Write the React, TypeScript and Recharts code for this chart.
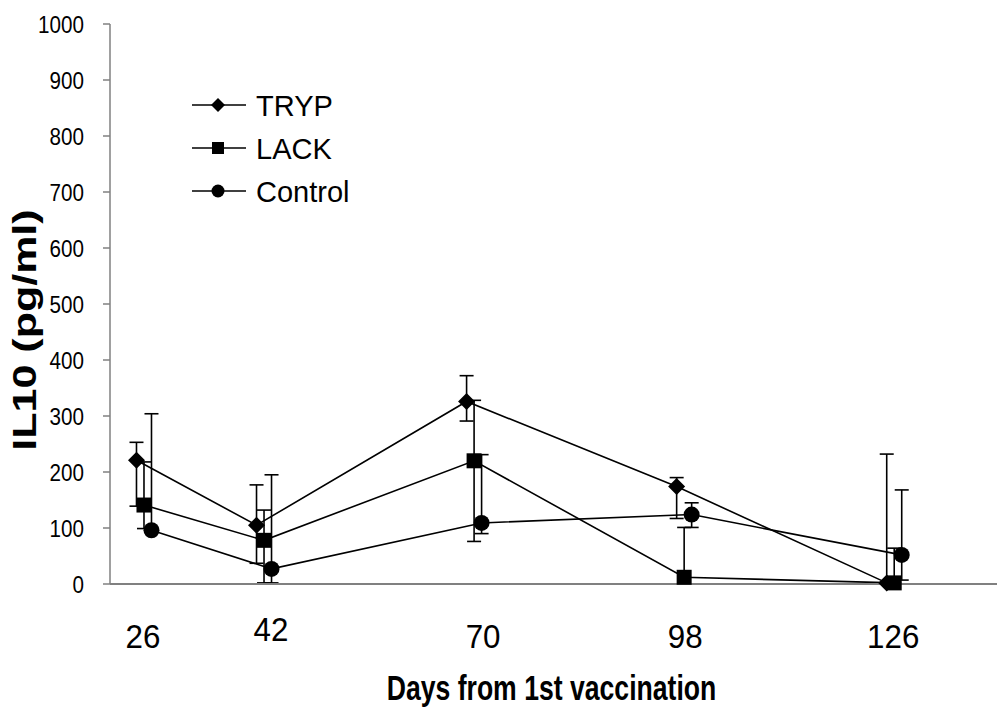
import React from 'react';
import { ComposedChart, Line, XAxis, YAxis, ErrorBar, Legend } from 'recharts';

// ---- data ----
const days = [26, 42, 70, 98, 126];
const xTickLabels = ['26', '42', '70', '98', '126'];
const yTicks = [0, 100, 200, 300, 400, 500, 600, 700, 800, 900, 1000];
const seriesNames = ['TRYP', 'LACK', 'Control'];

const trypMean = [221, 105, 326, 174, 2];
const trypHigh = [253, 177, 372, 190, 232];
const trypLow = [139, 37, 291, 117, 2];

const lackMean = [141, 78, 220, 12, 2];
const lackHigh = [218, 132, 328, 101, 64];
const lackLow = [99, 2, 76, 12, 2];

const controlMean = [96, 27, 109, 124, 52];
const controlHigh = [304, 195, 231, 145, 168];
const controlLow = [96, 2, 90, 101, 7];

// small horizontal jitter (in days) used by the original to separate the series
const JITTER = [-1, 0, 1];

const build = (mean: number[], low: number[], high: number[], j: number) =>
  days.map((d, i) => ({
    x: d + j,
    y: mean[i],
    err: [mean[i] - low[i], high[i] - mean[i]],
  }));

const trypData = build(trypMean, trypLow, trypHigh, JITTER[0]);
const lackData = build(lackMean, lackLow, lackHigh, JITTER[1]);
const controlData = build(controlMean, controlLow, controlHigh, JITTER[2]);

const FONT = '"Liberation Sans", Arial, sans-serif';

const SText = (p: {
  x: number;
  y: number;
  size: number;
  c?: number;
  bold?: boolean;
  anchor?: 'start' | 'middle' | 'end';
  rotate?: boolean;
  children: React.ReactNode;
}) => {
  const c = p.c ?? 1;
  return (
    <text
      transform={
        p.rotate
          ? `translate(${p.x},${p.y}) rotate(-90) scale(1,${c})`
          : `translate(${p.x},${p.y}) scale(${c},1)`
      }
      x={0}
      y={0}
      textAnchor={p.anchor || 'start'}
      fontSize={p.size}
      fontWeight={p.bold ? 'bold' : 'normal'}
      fontFamily={FONT}
      fill="#000"
    >
      {p.children}
    </text>
  );
};

const Diamond = (size: number) => (props: any) => {
  const { cx, cy, index } = props;
  if (cx == null || cy == null) return <g key={index} />;
  return (
    <polygon
      key={`d${index}`}
      points={`${cx},${cy - size} ${cx + size},${cy} ${cx},${cy + size} ${cx - size},${cy}`}
      fill="#000"
    />
  );
};
const Square = (size: number) => (props: any) => {
  const { cx, cy, index } = props;
  if (cx == null || cy == null) return <g key={index} />;
  return <rect key={`s${index}`} x={cx - size} y={cy - size} width={size * 2} height={size * 2} fill="#000" />;
};
const Circle = (size: number) => (props: any) => {
  const { cx, cy, index } = props;
  if (cx == null || cy == null) return <g key={index} />;
  return <circle key={`c${index}`} cx={cx} cy={cy} r={size} fill="#000" />;
};

const shapesBig = [Diamond(8.5), Square(7.5), Circle(8)];
const shapesSmall = [Diamond(7), Square(6), Circle(6.5)];

const xLabelShift: Record<string, [number, number]> = {
  '26': [-1, 0],
  '42': [7, -7],
  '70': [9, 0],
  '98': [1, 0],
  '126': [-1, 0],
};

const XTick = (props: any) => {
  const { x, y, payload } = props;
  const idx = days.indexOf(payload.value);
  const label = idx >= 0 ? xTickLabels[idx] : String(payload.value);
  const [dx, dy] = xLabelShift[label] || [0, 0];
  return (
    <SText x={x + dx} y={y + 56 + dy} size={33} c={0.95} anchor="middle">
      {label}
    </SText>
  );
};

const YTick = (props: any) => {
  const { x, y, payload } = props;
  return (
    <SText x={x} y={y + 8.5} size={24} c={0.86} anchor="end">
      {payload.value}
    </SText>
  );
};

const YTitle = (props: any) => {
  const { viewBox } = props;
  const cy = viewBox.y + viewBox.height / 2 + 26;
  return (
    <SText x={36} y={cy} size={43} c={0.76} bold anchor="middle" rotate>
      IL10 (pg/ml)
    </SText>
  );
};

const XTitle = (props: any) => {
  const { viewBox } = props;
  return (
    <SText x={viewBox.x + viewBox.width / 2 - 2} y={viewBox.y + 116} size={35} c={0.76} bold anchor="middle">
      Days from 1st vaccination
    </SText>
  );
};

const LegendContent = () => (
  <svg width={240} height={130}>
    {seriesNames.map((name, i) => {
      const cy = 19 + i * 43;
      const Shape = shapesSmall[i];
      return (
        <g key={name}>
          <line x1={7} x2={61} y1={cy} y2={cy} stroke="#000" strokeWidth={1.5} />
          {Shape({ cx: 33, cy, index: i })}
          <SText x={71} y={cy + 10.5} size={29}>
            {name}
          </SText>
        </g>
      );
    })}
  </svg>
);

export default function App() {
  return (
    <div style={{ position: 'absolute', left: 0, top: 0, background: '#fff' }}>
      <ComposedChart width={997} height={708} margin={{ top: 24, right: 0, bottom: 64, left: 0 }}>
        <XAxis
          type="number"
          dataKey="x"
          domain={[21.47, 139.7]}
          allowDataOverflow
          ticks={days}
          tick={<XTick />}
          tickLine={false}
          axisLine={{ stroke: '#808080', strokeWidth: 2 }}
          height={60}
          label={<XTitle />}
        />
        <YAxis
          type="number"
          domain={[0, 1000]}
          ticks={yTicks}
          interval={0}
          width={110}
          tickSize={7}
          tickMargin={19}
          tick={<YTick />}
          tickLine={{ stroke: '#808080', strokeWidth: 1.5 }}
          axisLine={{ stroke: '#808080', strokeWidth: 1.5 }}
          label={<YTitle />}
        />
        <Legend
          layout="horizontal"
          verticalAlign="middle"
          align="center"
          content={<LegendContent />}
          wrapperStyle={{ left: 185, top: 86, width: 240, height: 130 }}
        />
        {[trypData, lackData, controlData].map((data, i) => (
          <Line
            key={seriesNames[i]}
            name={seriesNames[i]}
            data={data}
            dataKey="y"
            stroke="#000"
            strokeWidth={1.6}
            dot={shapesBig[i]}
            activeDot={false}
            isAnimationActive={false}
          >
            <ErrorBar dataKey="err" width={7} stroke="#000" strokeWidth={1.6} direction="y" />
          </Line>
        ))}
      </ComposedChart>
    </div>
  );
}
